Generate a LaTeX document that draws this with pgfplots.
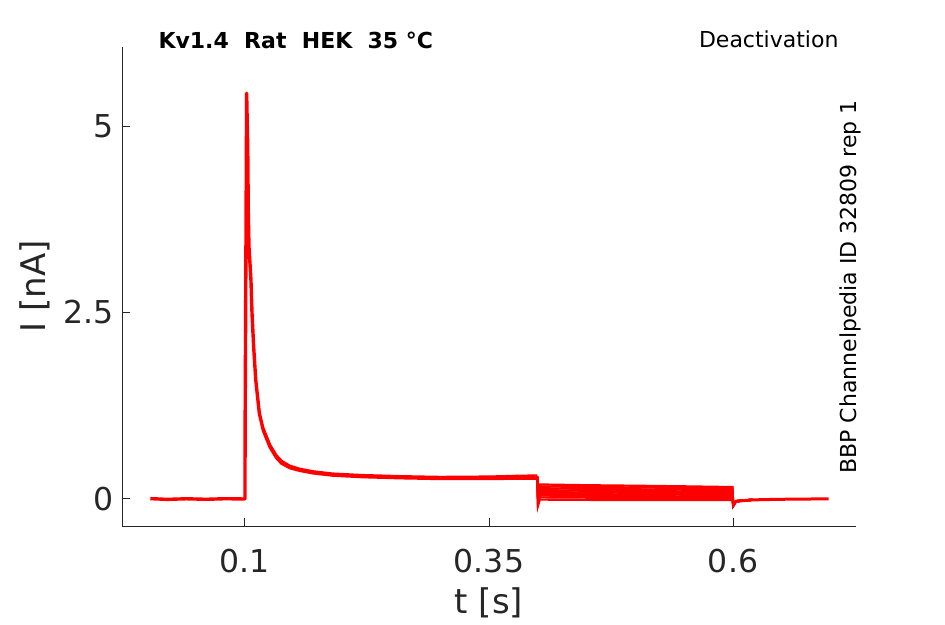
\documentclass[border=0pt]{standalone}
\usepackage{fontspec}
\setmainfont{DejaVu Sans}
\usepackage{pgfplots}
\pgfplotsset{compat=1.18}
\definecolor{axgray}{HTML}{262626}
\begin{document}
\begin{tikzpicture}[x=1pt,y=1pt]
\useasboundingbox (0,0) rectangle (945,624);
\begin{axis}[
  at={(122pt,98pt)}, anchor=south west,
  width=734pt, height=479pt, scale only axis,
  xmin=-0.026, xmax=0.726, ymin=-0.362, ymax=6.06,
  axis lines=left,
  axis line style={axgray, line width=1pt, -},
  xtick={0.1,0.35,0.6}, xticklabels={0.1,0.35,0.6},
  ytick={0,2.5,5}, yticklabels={0,2.5,5},
  tick align=inside, major tick length=8pt,
  tick style={axgray, line width=1pt},
  /pgf/number format/assume math mode=true,
  ticklabel style={font=\fontsize{31.5}{37}\selectfont, text=axgray},
  xticklabel style={yshift=-20pt},
  yticklabel style={xshift=-5pt},
  xlabel={t [s]}, ylabel={I [nA]},
  label style={font=\fontsize{34}{40}\selectfont, text=axgray},
  xlabel style={at={(axis description cs:0.5,-0.161)}, anchor=center},
  ylabel style={at={(axis description cs:-0.1185,0.5)}, anchor=center},
  clip=false,
]
% main trace 0 - 0.4 s
\addplot[red, line width=3.4pt, line join=round] coordinates {
(0.003,0.005) (0.02,-0.005) (0.04,0.003) (0.06,-0.004) (0.08,0.004) (0.0995,0.0)
(0.1,0.0) (0.1001,0.85) (0.1017,5.44) (0.1028,4.72) (0.1034,3.83) (0.1041,3.38)
(0.1061,2.94) (0.1072,2.49) (0.1089,2.04) (0.1110,1.60) (0.1147,1.15) (0.1188,0.92)
(0.1256,0.70) (0.1320,0.56) (0.1376,0.48) (0.1460,0.42) (0.156,0.385) (0.170,0.35)
(0.19,0.32) (0.22,0.30) (0.26,0.285) (0.30,0.275) (0.35,0.275) (0.38,0.28) (0.3995,0.28)
};
\addplot[red, line width=2.4pt, line join=round] coordinates {
(0.1188,0.95) (0.1256,0.73) (0.1320,0.59) (0.1376,0.51) (0.1460,0.445) (0.156,0.405) (0.170,0.37)
(0.19,0.34) (0.22,0.32) (0.26,0.305) (0.30,0.295) (0.35,0.30) (0.38,0.31) (0.3995,0.315)
};
% deactivation sweeps 0.4 - 0.6 s
\addplot[red, line width=2.2pt] coordinates {(0.3995,0.30) (0.4002,0.14) (0.402,0.195) (0.45,0.185) (0.5,0.178) (0.55,0.17) (0.5995,0.16) (0.6002,-0.09) (0.603,-0.03) (0.62,-0.01)};
\addplot[red, line width=2.2pt] coordinates {(0.3995,0.30) (0.4002,0.11) (0.402,0.17) (0.45,0.16) (0.5,0.155) (0.55,0.148) (0.5995,0.14) (0.6002,-0.09) (0.603,-0.03) (0.62,-0.01)};
\addplot[red, line width=2.2pt] coordinates {(0.3995,0.30) (0.4002,0.08) (0.402,0.145) (0.45,0.135) (0.5,0.13) (0.55,0.125) (0.5995,0.12) (0.6002,-0.09) (0.603,-0.03) (0.62,-0.01)};
\addplot[red, line width=2.2pt] coordinates {(0.3995,0.30) (0.4002,0.05) (0.402,0.12) (0.45,0.11) (0.5,0.106) (0.55,0.102) (0.5995,0.098) (0.6002,-0.09) (0.603,-0.03) (0.62,-0.01)};
\addplot[red, line width=2.2pt] coordinates {(0.3995,0.30) (0.4002,0.02) (0.402,0.094) (0.45,0.087) (0.5,0.084) (0.55,0.08) (0.5995,0.077) (0.6002,-0.09) (0.603,-0.03) (0.62,-0.01)};
\addplot[red, line width=2.2pt] coordinates {(0.3995,0.30) (0.4002,-0.02) (0.402,0.07) (0.45,0.064) (0.5,0.061) (0.55,0.058) (0.5995,0.055) (0.6002,-0.09) (0.603,-0.03) (0.62,-0.01)};
\addplot[red, line width=2.2pt] coordinates {(0.3995,0.30) (0.4002,-0.05) (0.402,0.046) (0.45,0.041) (0.5,0.038) (0.55,0.035) (0.5995,0.033) (0.6002,-0.09) (0.603,-0.03) (0.62,-0.01)};
\addplot[red, line width=2.2pt] coordinates {(0.3995,0.30) (0.4002,-0.07) (0.402,0.022) (0.45,0.018) (0.5,0.016) (0.55,0.014) (0.5995,0.012) (0.6002,-0.09) (0.603,-0.03) (0.62,-0.01)};
\addplot[red, line width=2.2pt] coordinates {(0.3995,0.30) (0.4002,-0.09) (0.402,-0.008) (0.45,-0.012) (0.5,-0.013) (0.55,-0.013) (0.5995,-0.013) (0.6002,-0.09) (0.603,-0.03) (0.62,-0.01)};
% tail 0.6 - 0.7 s
\addplot[red, line width=3pt, line join=round] coordinates {
(0.603,-0.03) (0.62,-0.012) (0.64,-0.006) (0.66,-0.002) (0.68,0.0) (0.698,0.0)
};
\end{axis}
\node[anchor=west, font=\bfseries\fontsize{22}{26}\selectfont] at (155,584) {Kv1.4\ \ Rat\ \ HEK\ \ 35 °C};
\node[anchor=east, font=\fontsize{22}{26}\selectfont] at (842,585) {Deactivation};
\node[rotate=90, anchor=center, font=\fontsize{22}{26}\selectfont] at (850,337) {BBP Channelpedia ID 32809 rep 1};
\end{tikzpicture}
\end{document}
